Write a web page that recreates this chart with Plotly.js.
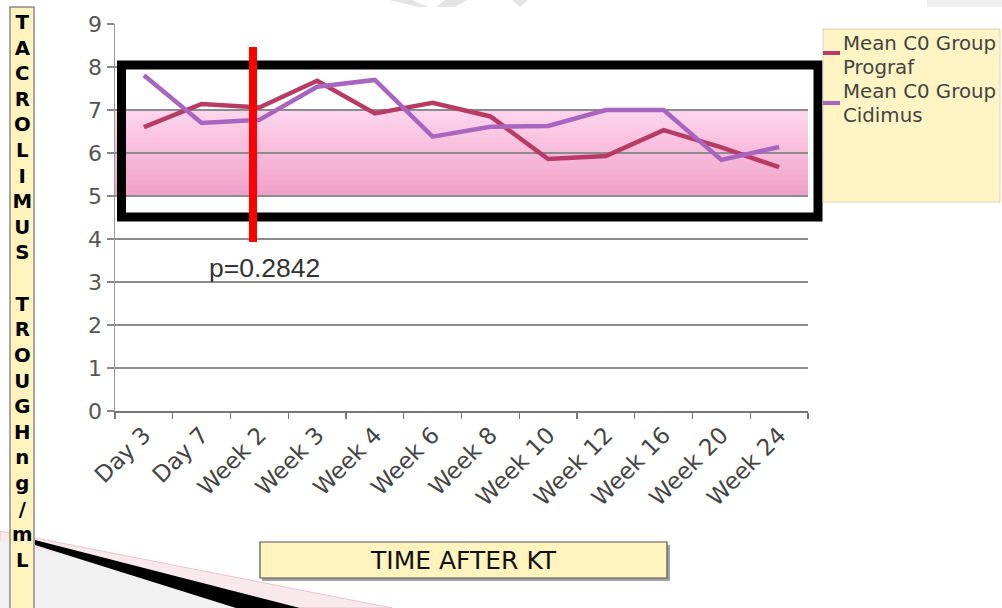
<!DOCTYPE html>
<html>
<head>
<meta charset="utf-8">
<script src="https://cdn.plot.ly/plotly-3.0.1.min.js"></script>
<style>html,body{margin:0;padding:0;background:#fff;}#chart{width:1002px;height:608px;}</style>
</head>
<body>
<div id="chart"></div>
<script>
// ---- data ----
const categories = ['Day 3','Day 7','Week 2','Week 3','Week 4','Week 6','Week 8','Week 10','Week 12','Week 16','Week 20','Week 24'];
const prograf = [6.6, 7.14, 7.06, 7.68, 6.92, 7.17, 6.85, 5.86, 5.93, 6.53, 6.13, 5.67];
const cidimus = [7.81, 6.7, 6.77, 7.54, 7.7, 6.38, 6.61, 6.63, 7.0, 7.0, 5.84, 6.14];
const seriesNames = ['Mean C0 Group Prograf', 'Mean C0 Group Cidimus'];
const legendLines = [['Mean C0 Group', 'Prograf'], ['Mean C0 Group', 'Cidimus']];
const yTicks = [0,1,2,3,4,5,6,7,8,9];
const targetBand = [5, 7];
const pValueText = 'p=0.2842';
const yTitleText = 'TACROLIMUS TROUGH ng/mL';
const xTitleText = 'TIME AFTER KT';

// ---- layout helpers (pixel -> paper) ----
const W = 1002, H = 608;
const M = {l: 115, r: 194, t: 24, b: 197};
const PW = W - M.l - M.r, PH = H - M.t - M.b;
const px = X => (X - M.l) / PW;
const py = Y => (H - M.b - Y) / PH;

const colProg = '#B83B66', colCid = '#A865C0';
const shapes = [];

// gradient target band (between gridlines, below them)
const strips = 16;
const cTop = [253, 214, 236], cBot = [241, 160, 201];
const span = targetBand[1] - targetBand[0];
for (let i = 0; i < strips; i++) {
  const t = (i + 0.5) / strips;
  const c = cTop.map((v, k) => Math.round(v + (cBot[k] - v) * t));
  const y1 = targetBand[1] - span * i / strips;
  const y0 = Math.max(targetBand[0], targetBand[1] - span * (i + 1) / strips - 0.03);
  shapes.push({type: 'rect', xref: 'paper', yref: 'y', x0: 0, x1: 1, y0: y0, y1: y1,
    fillcolor: 'rgb(' + c.join(',') + ')', line: {width: 0}, layer: 'below'});
}

// black highlight rectangle
shapes.push({type: 'rect', xref: 'paper', yref: 'paper', x0: px(121.5), x1: px(818), y0: py(217), y1: py(65),
  line: {color: '#000', width: 9}, fillcolor: 'rgba(0,0,0,0)', layer: 'above'});
// red vertical marker
shapes.push({type: 'line', xref: 'paper', yref: 'paper', x0: px(253), x1: px(253), y0: py(242), y1: py(47),
  line: {color: '#FF0000', width: 8}, layer: 'above'});

// bottom-left decoration
shapes.push({type: 'path', xref: 'paper', yref: 'paper', layer: 'above',
  path: `M ${px(0)},${py(531)} L ${px(392)},${py(608)} L ${px(0)},${py(608)} Z`,
  fillcolor: '#F8E9ED', line: {color: '#E9C3CE', width: 1}});
shapes.push({type: 'path', xref: 'paper', yref: 'paper', layer: 'above',
  path: `M ${px(0)},${py(541)} L ${px(300)},${py(608)} L ${px(0)},${py(608)} Z`,
  fillcolor: '#F1F1F1', line: {width: 0}});
shapes.push({type: 'path', xref: 'paper', yref: 'paper', layer: 'above',
  path: `M ${px(35)},${py(540)} L ${px(300)},${py(608)} L ${px(236)},${py(608)} L ${px(35)},${py(545)} Z`,
  fillcolor: '#000', line: {width: 0}});

// faint top decorations
shapes.push({type: 'path', xref: 'paper', yref: 'paper', layer: 'above',
  path: `M ${px(389)},${py(0)} L ${px(412)},${py(0)} L ${px(428)},${py(7)} L ${px(418)},${py(7)} Z`,
  fillcolor: '#E4E4E4', line: {width: 0}});
shapes.push({type: 'path', xref: 'paper', yref: 'paper', layer: 'above',
  path: `M ${px(445)},${py(0)} L ${px(467)},${py(0)} L ${px(455)},${py(7)} L ${px(436)},${py(7)} Z`,
  fillcolor: '#E4E4E4', line: {width: 0}});
shapes.push({type: 'path', xref: 'paper', yref: 'paper', layer: 'above',
  path: `M ${px(512)},${py(0)} L ${px(528)},${py(0)} L ${px(520)},${py(7)} Z`,
  fillcolor: '#E4E4E4', line: {width: 0}});
shapes.push({type: 'rect', xref: 'paper', yref: 'paper', layer: 'above',
  x0: px(927), x1: px(1002), y0: py(7), y1: py(0), fillcolor: '#F0F0F0', line: {width: 0}});

// y-title box
shapes.push({type: 'rect', xref: 'paper', yref: 'paper', layer: 'above',
  x0: px(10), x1: px(34), y0: py(612), y1: py(7), fillcolor: '#FFF4BE', line: {color: '#8A8A8A', width: 1.5}});
// x-title box with shadow
shapes.push({type: 'rect', xref: 'paper', yref: 'paper', layer: 'above',
  x0: px(262), x1: px(670), y0: py(581), y1: py(545), fillcolor: 'rgba(90,90,90,0.55)', line: {width: 0}});
shapes.push({type: 'rect', xref: 'paper', yref: 'paper', layer: 'above',
  x0: px(260), x1: px(667), y0: py(578), y1: py(542), fillcolor: '#FFF4BE', line: {color: '#555', width: 1.2}});
// legend box
shapes.push({type: 'rect', xref: 'paper', yref: 'paper', layer: 'above',
  x0: px(823), x1: px(1000), y0: py(202), y1: py(29), fillcolor: '#FFF5C4', line: {color: '#D8D4C0', width: 1}});
// legend markers
[[53, colProg], [103, colCid]].forEach(([Y, c]) => {
  shapes.push({type: 'line', xref: 'paper', yref: 'paper', layer: 'above',
    x0: px(823), x1: px(840), y0: py(Y), y1: py(Y), line: {color: c, width: 4}});
});

const annotations = [];
// legend text
const legTop = [43, 67, 91, 115];
[legendLines[0][0], legendLines[0][1], legendLines[1][0], legendLines[1][1]].forEach((t, i) => {
  annotations.push({xref: 'paper', yref: 'paper', x: px(841), y: py(legTop[i]), xanchor: 'left', yanchor: 'middle',
    text: t, showarrow: false, font: {family: 'DejaVu Sans', size: 19.8, color: '#444'}});
});
// p value
annotations.push({xref: 'paper', yref: 'paper', x: px(264), y: py(268), xanchor: 'center', yanchor: 'middle',
  text: pValueText, showarrow: false, font: {family: 'Liberation Sans, Arial', size: 26.5, color: '#333'}});
// y title: stacked letters
const stacked = [];
yTitleText.split(' ').forEach((word, wi) => {
  if (wi === 1) stacked.push('\u00a0');
  word.split('').forEach(ch => stacked.push(ch));
});
annotations.push({xref: 'paper', yref: 'paper', x: px(22), y: py(291), xanchor: 'center', yanchor: 'middle',
  text: stacked.join('<br>'), showarrow: false, align: 'center',
  font: {family: 'DejaVu Sans', size: 19.7, weight: 700, color: '#000'}});
// x title
annotations.push({xref: 'paper', yref: 'paper', x: px(463), y: py(560), xanchor: 'center', yanchor: 'middle',
  text: xTitleText, showarrow: false, font: {family: 'DejaVu Sans', size: 25, color: '#111'}});

const traces = [
  {x: categories, y: prograf, name: seriesNames[0], type: 'scatter', mode: 'lines',
   line: {color: colProg, width: 4.5}, showlegend: false},
  {x: categories, y: cidimus, name: seriesNames[1], type: 'scatter', mode: 'lines',
   line: {color: colCid, width: 4.5}, showlegend: false}
];

const layout = {
  width: W, height: H,
  margin: M,
  paper_bgcolor: '#fff', plot_bgcolor: '#fff',
  showlegend: false,
  xaxis: {type: 'category', range: [-0.5, categories.length - 0.5], tickangle: -45,
    ticks: 'outside', tickson: 'boundaries', ticklen: 6, tickcolor: '#777', tickwidth: 1.2,
    showgrid: false, showline: true, linecolor: '#777', linewidth: 1.5, zeroline: false,
    tickfont: {family: 'DejaVu Sans', size: 23, color: '#444'}},
  yaxis: {range: [0, 9], tickvals: yTicks, ticktext: yTicks.map(String),
    ticks: 'outside', ticklen: 7, tickcolor: '#888', tickwidth: 1.2,
    showgrid: true, gridcolor: '#8C8C8C', gridwidth: 1.5, zeroline: false,
    showline: true, linecolor: '#999', linewidth: 1.5,
    tickfont: {family: 'DejaVu Sans', size: 22, color: '#555'}},
  shapes: shapes,
  annotations: annotations
};

Plotly.newPlot('chart', traces, layout, {displayModeBar: false, staticPlot: true});
</script>
</body>
</html>
